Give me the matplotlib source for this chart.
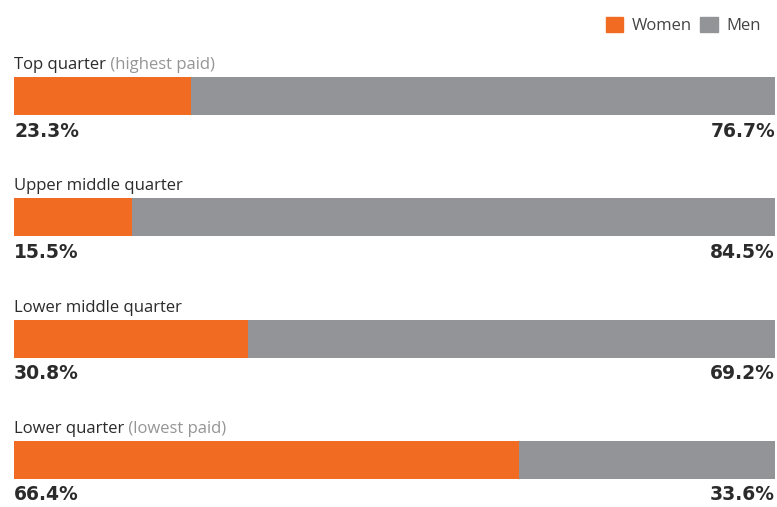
import matplotlib
matplotlib.use("Agg")
import matplotlib.pyplot as plt
from matplotlib.patches import Patch

categories = ["Top quarter", "Upper middle quarter", "Lower middle quarter", "Lower quarter"]
notes = ["(highest paid)", "", "", "(lowest paid)"]
women = [23.3, 15.5, 30.8, 66.4]
men = [76.7, 84.5, 69.2, 33.6]

ORANGE = "#F26B22"
GRAY = "#939497"
DARK = "#2b2b2b"
LIGHT = "#959595"

fig = plt.figure(figsize=(7.77, 5.07), dpi=100)
ax = fig.add_axes([14/777, 0, 761/777, 1])
ax.set_xlim(0, 100)
ax.set_ylim(3.388, -0.791)
ax.axis("off")

ys = list(range(len(categories)))
ax.barh(ys, women, height=0.313, color=ORANGE)
ax.barh(ys, men, left=women, height=0.313, color=GRAY)

for i, (c, n) in enumerate(zip(categories, notes)):
    t = ax.text(0, i - 0.256, c, fontsize=12, color=DARK, family="Open Sans", va="center", ha="left")
    if n:
        ax.annotate(" " + n, xy=(1, 0), xycoords=t, va="bottom", ha="left",
                    fontsize=12, color=LIGHT, family="Open Sans")
    ax.text(0, i + 0.289, f"{women[i]:.1f}%", fontsize=13.5, fontweight="bold", color=DARK,
            family="DejaVu Sans", va="center", ha="left")
    ax.text(100, i + 0.289, f"{men[i]:.1f}%", fontsize=13.5, fontweight="bold", color=DARK,
            family="DejaVu Sans", va="center", ha="right")

handles = [Patch(color=ORANGE, label="Women"), Patch(color=GRAY, label="Men")]
leg = fig.legend(handles=handles, loc="upper right", bbox_to_anchor=(0.998, 0.997), ncol=2,
                 frameon=False, handlelength=1.05, handleheight=1.05, handletextpad=0.5,
                 columnspacing=0.5, prop={"family": "Open Sans", "size": 12})
for t in leg.get_texts():
    t.set_color("#444444")

fig.savefig("out.png", dpi=100, facecolor="white")
